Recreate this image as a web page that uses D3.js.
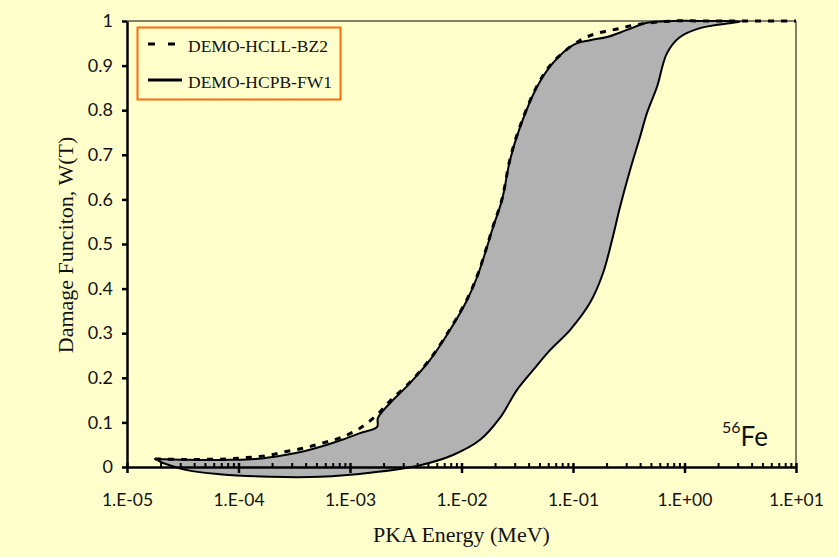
<!DOCTYPE html>
<html>
<head>
<meta charset="utf-8">
<script src="https://cdn.jsdelivr.net/npm/d3@7"></script>
<style>
  body { margin: 0; background: #FFFFCC; }
  svg { display: block; }
</style>
</head>
<body>
<svg id="chart"></svg>
<script>
// Tick labels
const energyTicks = [1e-5, 1e-4, 1e-3, 1e-2, 1e-1, 1, 10];
const energyTickLabels = ['1.E-05', '1.E-04', '1.E-03', '1.E-02', '1.E-01', '1.E+00', '1.E+01'];
const wTicks = [0, 0.1, 0.2, 0.3, 0.4, 0.5, 0.6, 0.7, 0.8, 0.9, 1];
const wTickLabels = ['0', '0.1', '0.2', '0.3', '0.4', '0.5', '0.6', '0.7', '0.8', '0.9', '1'];

// DEMO-HCPB-FW1, upper branch (low -> high energy)
const hcpbUpperE = [1.78e-5, 3.45e-5, 8.4e-5, 1.41e-4, 2.61e-4, 3.95e-4, 5.73e-4, 8.48e-4, 1.23e-3, 1.75e-3,
  1.78e-3, 2.28e-3, 3.45e-3, 5.22e-3, 7.88e-3, 1.12e-2, 1.38e-2, 1.63e-2, 1.92e-2, 2.31e-2, 2.72e-2,
  3.35e-2, 4.75e-2, 6.62e-2, 0.1, 0.142, 0.202, 0.305, 0.461, 0.789, 1.59, 3.15];
const hcpbUpperW = [0.018, 0.016, 0.016, 0.018, 0.027, 0.036, 0.047, 0.061, 0.076, 0.090,
  0.110, 0.143, 0.188, 0.240, 0.307, 0.374, 0.426, 0.480, 0.538, 0.599, 0.688,
  0.762, 0.852, 0.906, 0.946, 0.957, 0.964, 0.980, 0.996, 1.0, 1.0, 0.999];

// DEMO-HCPB-FW1, lower branch (high -> low energy)
const hcpbLowerE = [2.72, 1.38, 0.912, 0.697, 0.566, 0.461, 0.399, 0.325, 0.264, 0.224, 0.186, 0.142,
  0.094, 0.0622, 0.0438, 0.0315, 0.0221, 0.0147, 8.39e-3, 4.25e-3, 1.51e-3, 5.38e-4, 1.92e-4,
  6.8e-5, 3.45e-5, 2.1e-5];
const hcpbLowerW = [0.996, 0.984, 0.964, 0.928, 0.852, 0.794, 0.740, 0.666, 0.583, 0.509, 0.435, 0.368,
  0.307, 0.262, 0.217, 0.173, 0.110, 0.061, 0.027, 0.004, -0.013, -0.022, -0.022,
  -0.016, -0.007, 0.009];

// DEMO-HCLL-BZ2
const hcllE = [1.78e-5, 3.45e-5, 7.7e-5, 1.14e-4, 1.73e-4, 2.61e-4, 3.95e-4, 5.73e-4, 8.48e-4, 1.23e-3,
  1.75e-3, 2.28e-3, 3.45e-3, 5.22e-3, 7.88e-3, 1.12e-2, 1.38e-2, 1.63e-2, 1.92e-2, 2.31e-2, 2.72e-2,
  3.35e-2, 4.75e-2, 6.62e-2, 0.116, 0.168, 0.248, 0.399, 0.789, 1.59, 3.15, 10];
const hcllW = [0.018, 0.017, 0.018, 0.021, 0.025, 0.034, 0.043, 0.054, 0.067, 0.087,
  0.117, 0.148, 0.190, 0.242, 0.309, 0.376, 0.428, 0.482, 0.540, 0.601, 0.690,
  0.764, 0.854, 0.908, 0.957, 0.973, 0.982, 0.993, 1.0, 1.0, 1.0, 1.0];

const W = 839, H = 557;
const margin = { top: 21, right: 43, bottom: 90, left: 127 };
const width = W - margin.left - margin.right;
const height = H - margin.top - margin.bottom;

const svg = d3.select('#chart')
    .attr('width', W)
    .attr('height', H);

svg.append('rect')
    .attr('width', W)
    .attr('height', H)
    .attr('fill', '#FFFFCC');

const g = svg.append('g')
    .attr('transform', `translate(${margin.left},${margin.top})`);

const x = d3.scaleLog()
    .domain([1e-5, 10])
    .range([0, width]);

const y = d3.scaleLinear()
    .domain([0, 1])
    .range([height, 0]);

const line = d3.line()
    .x(d => x(d[0]))
    .y(d => y(d[1]))
    .curve(d3.curveCatmullRom.alpha(0.5));

// plot area border (top / right)
g.append('path')
    .attr('d', `M0,0H${width}V${height}`)
    .attr('fill', 'none')
    .attr('stroke', '#000')
    .attr('stroke-width', 1);

// HCPB loop, filled
const loop = hcpbUpperE.map((e, i) => [e, hcpbUpperW[i]])
    .concat(hcpbLowerE.map((e, i) => [e, hcpbLowerW[i]]));

g.append('path')
    .attr('d', line(loop) + 'Z')
    .attr('fill', '#B2B2B2')
    .attr('stroke', '#000')
    .attr('stroke-width', 2)
    .attr('stroke-linejoin', 'round');

// HCLL dashed
const hcll = hcllE.map((e, i) => [e, hcllW[i]]);
g.append('path')
    .attr('d', line(hcll))
    .attr('fill', 'none')
    .attr('stroke', '#000')
    .attr('stroke-width', 3)
    .attr('stroke-dasharray', '6,7');

// x axis
const minorTicks = [];
energyTicks.slice(0, -1).forEach(d => {
  for (let k = 2; k <= 9; k++) minorTicks.push(d * k);
});

const xMinor = g.append('g')
    .attr('transform', `translate(0,${height})`)
    .call(d3.axisBottom(x).tickValues(minorTicks).tickSize(-4).tickFormat(''));
xMinor.select('.domain').remove();
xMinor.selectAll('line').attr('stroke-width', 2);

const xAxis = g.append('g')
    .attr('transform', `translate(0,${height})`)
    .call(d3.axisBottom(x)
      .tickValues(energyTicks)
      .tickSizeInner(6)
      .tickSizeOuter(0)
      .tickPadding(21)
      .tickFormat((d, i) => energyTickLabels[i]));
xAxis.select('.domain').attr('stroke-width', 2.5);
xAxis.selectAll('line').attr('y1', -4).attr('stroke-width', 2.5);
xAxis.selectAll('text')
    .style('font-family', 'Lato, "Liberation Sans", sans-serif')
    .style('font-size', '17.5px')
    .style('fill', '#111');

// y axis
const yAxis = g.append('g')
    .call(d3.axisLeft(y)
      .tickValues(wTicks)
      .tickSizeInner(5)
      .tickSizeOuter(0)
      .tickPadding(9)
      .tickFormat((d, i) => wTickLabels[i]));
yAxis.select('.domain').attr('stroke-width', 2.5);
yAxis.selectAll('line').attr('stroke-width', 2.5);
yAxis.selectAll('text')
    .style('font-family', 'Lato, "Liberation Sans", sans-serif')
    .style('font-size', '18px')
    .style('fill', '#111');

// axis titles
svg.append('text')
    .attr('x', margin.left + width / 2)
    .attr('y', 542)
    .attr('text-anchor', 'middle')
    .style('font-family', '"Liberation Serif", serif')
    .style('font-size', '22px')
    .style('fill', '#111')
    .text('PKA Energy (MeV)');

svg.append('text')
    .attr('transform', 'translate(73,245) rotate(-90)')
    .attr('text-anchor', 'middle')
    .style('font-family', '"Liberation Serif", serif')
    .style('font-size', '22px')
    .style('fill', '#111')
    .text('Damage Funciton, W(T)');

// 56Fe label
const fe = svg.append('text')
    .attr('x', 722)
    .attr('y', 446)
    .style('font-family', 'Lato, "Liberation Sans", sans-serif')
    .style('fill', '#111');
fe.append('tspan').attr('dy', -13).style('font-size', '16px').text('56');
fe.append('tspan').attr('dy', 13).style('font-size', '26px').text('Fe');

// legend
const legend = svg.append('g');
legend.append('rect')
    .attr('x', 137.5)
    .attr('y', 27.5)
    .attr('width', 203)
    .attr('height', 72)
    .attr('fill', '#FFFFCC')
    .attr('stroke', '#FF6A0D')
    .attr('stroke-width', 2);

const legendItems = [
  { name: 'DEMO-HCLL-BZ2', dash: '7,13', y: 44 },
  { name: 'DEMO-HCPB-FW1', dash: null, y: 80 }
];

legendItems.forEach(d => {
  legend.append('line')
      .attr('x1', 148)
      .attr('x2', 182)
      .attr('y1', d.y)
      .attr('y2', d.y)
      .attr('stroke', '#000')
      .attr('stroke-width', 3)
      .attr('stroke-dasharray', d.dash);
  legend.append('text')
      .attr('x', 188)
      .attr('y', d.y + 8)
      .style('font-family', '"Liberation Serif", serif')
      .style('font-size', '17.5px')
      .style('fill', '#111')
      .text(d.name);
});
</script>
</body>
</html>
